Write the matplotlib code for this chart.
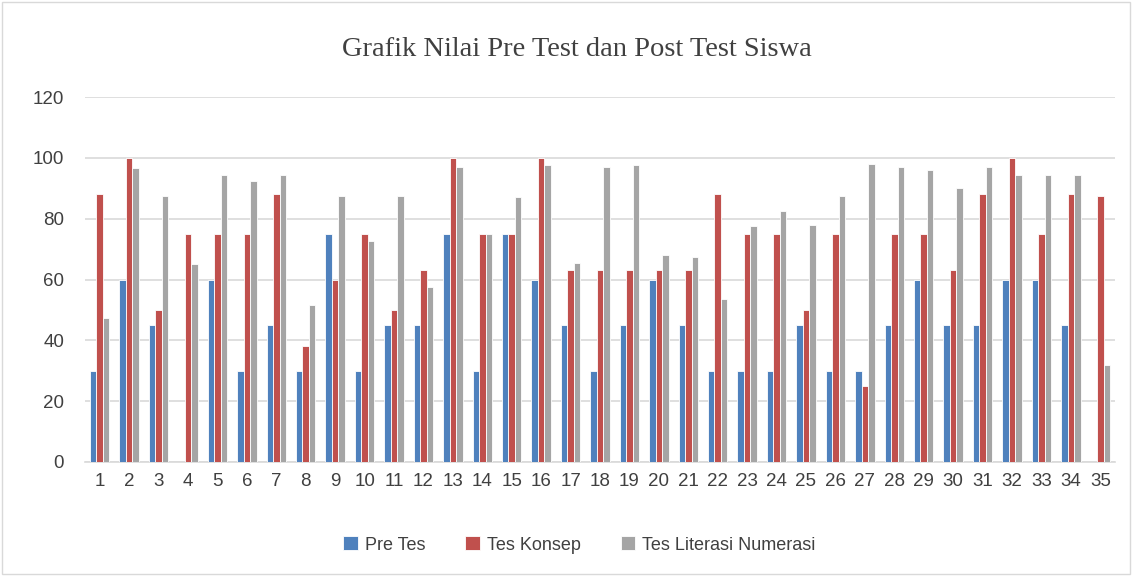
import numpy as np
import matplotlib.pyplot as plt
from matplotlib.patches import Rectangle

siswa = [str(i) for i in range(1, 36)]
pre_tes = [30, 60, 45, 0, 60, 30, 45, 30, 75, 30, 45, 45, 75, 30, 75, 60, 45, 30,
           45, 60, 45, 30, 30, 30, 45, 30, 30, 45, 60, 45, 45, 60, 60, 45, 0]
tes_konsep = [88, 100, 50, 75, 75, 75, 88, 38, 60, 75, 50, 63, 100, 75, 75, 100, 63, 63,
              63, 63, 63, 88, 75, 75, 50, 75, 25, 75, 75, 63, 88, 100, 75, 88, 87.5]
tes_literasi = [47.5, 96.5, 87.5, 65, 94.5, 92.5, 94.5, 51.5, 87.5, 72.5, 87.5, 57.5, 97, 75,
                87, 97.5, 65.5, 97, 97.5, 68, 67.5, 53.5, 77.5, 82.5, 78, 87.5, 98, 97,
                96, 90, 97, 94.5, 94.5, 94.5, 32]

fig = plt.figure(figsize=(11.32, 5.76), dpi=100)
ax = fig.add_axes([85 / 1132, 1 - 462 / 576, 1030 / 1132, 365 / 576])

x = np.arange(1, 36)
w = 0.22
ax.bar(x - w, pre_tes, w, color="#4f81bd", edgecolor="white", linewidth=0.6, label="Pre Tes", zorder=3)
ax.bar(x, tes_konsep, w, color="#c0504d", edgecolor="white", linewidth=0.6, label="Tes Konsep", zorder=3)
ax.bar(x + w, tes_literasi, w, color="#a5a5a5", edgecolor="white", linewidth=0.6,
       label="Tes Literasi Numerasi", zorder=3)

ax.set_xlim(0.5, 35.5)
ax.set_ylim(0, 120)
ax.set_yticks(range(0, 121, 20))
ax.set_xticks(x)
ax.set_xticklabels(siswa)
ax.grid(axis="y", color="#d9d9d9", linewidth=1.2, zorder=0)
for s in ["top", "right", "left"]:
    ax.spines[s].set_visible(False)
ax.spines["bottom"].set_color("#d9d9d9")
ax.spines["bottom"].set_linewidth(1.2)
ax.tick_params(length=0, labelsize=13.5, labelcolor="#404040", pad=8)
for lab in ax.get_xticklabels() + ax.get_yticklabels():
    lab.set_family("Liberation Sans")
ax.tick_params(axis="y", pad=15)

fig.text(0.51, 1 - 50 / 576, "Grafik Nilai Pre Test dan Post Test Siswa", ha="center", va="center",
         fontsize=20.5, family="Liberation Serif", color="#404040")

leg = fig.legend(loc="center", bbox_to_anchor=(0.512, 1 - 545 / 576), ncol=3, frameon=False,
                 prop={"family": "Liberation Sans", "size": 13}, handlelength=0.8, handleheight=0.8,
                 columnspacing=2.2, handletextpad=0.4)
for t in leg.get_texts():
    t.set_color("#404040")

fig.patches.append(Rectangle((0.002, 0.003), 0.996, 0.994, transform=fig.transFigure,
                             fill=False, edgecolor="#d9d9d9", linewidth=1))

fig.savefig("out.png", dpi=100)
